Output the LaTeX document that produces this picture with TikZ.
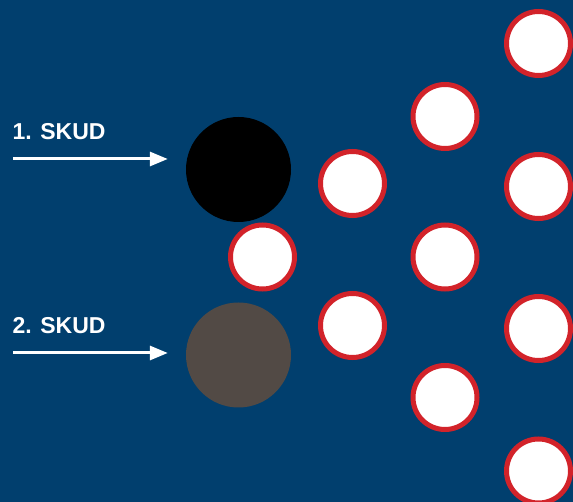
\documentclass[tikz,border=0pt]{standalone}
\usepackage{fontspec}
\setmainfont{Liberation Sans}
\usepackage{tikz}
\usetikzlibrary{positioning}
\usetikzlibrary{calc}
\usetikzlibrary{arrows.meta}

\definecolor{poolblue}{HTML}{013F6E}
\definecolor{rimred}{HTML}{D2232A}
\definecolor{cuebrown}{HTML}{524A45}

\begin{document}
\begin{tikzpicture}[
    x=1pt, y=-1pt,          % pixel-like grid, y pointing down
    ]
% -------------------------------------------------
\tikzset{
  ball/.style={circle, draw=rimred, line width=5pt, fill=white, inner sep=0pt, minimum size=64pt},
  cue/.style={circle, inner sep=0pt, minimum size=105pt},
  shottext/.style={anchor=base west, inner sep=0pt, text=white, font=\bfseries\fontsize{23}{28}\selectfont},
  shot/.style={draw=white, line width=3pt, -{Triangle[length=18pt,width=14pt]}, shorten >=18pt}
}
% -------------------------------------------------
% Background
\fill [poolblue] (0,0) rectangle (573,502);
\useasboundingbox (0,0) rectangle (573,502);

% Placing the balls
\foreach \name/\px/\py in {r0/262.5/257,
    r1/352.5/183.5, r2/352.5/325.5,
    r3/445/116.5, r4/445/257, r5/445/397.5,
    r6/538.5/43.5, r7/538.5/186.5, r8/538.5/328.5, r9/538.5/471}
  \node [ball] (\name) at (\px,\py) {};

\node [cue, fill=black] (c0) at (238.5,169.5) {};
\node [cue, fill=cuebrown] (c1) at (238.5,355) {};

% Shots
\node [shottext] (l0) at (12.5,140) {1. SKUD};
\node [shottext] (l1) at (12.5,333.5) {2. SKUD};

\coordinate (s0) at (13,159);
\coordinate (s1) at (13,353);

\path [shot] (s0) -- (s0 -| c0.west);
\path [shot] (s1) -- (s1 -| c1.west);

\end{tikzpicture}
\end{document}
